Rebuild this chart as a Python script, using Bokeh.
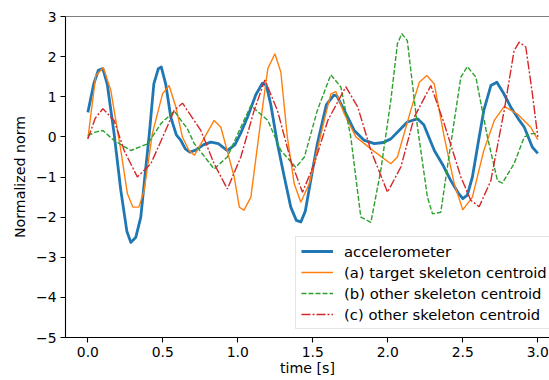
from bokeh.plotting import figure
from bokeh.models import Range1d, FixedTicker, Span, Legend, LegendItem
from bokeh.embed import file_html
from bokeh.resources import INLINE

# ---- data ----
t_acc = [0.0, 0.04, 0.07, 0.1, 0.13, 0.175, 0.22, 0.26, 0.287, 0.32, 0.353, 0.38, 0.41, 0.44,
         0.47, 0.49, 0.52, 0.553, 0.59, 0.62, 0.65, 0.68, 0.72, 0.77, 0.82, 0.87, 0.93, 0.98,
         1.02, 1.064, 1.12, 1.164, 1.19, 1.22, 1.264, 1.31, 1.353, 1.39, 1.42, 1.45, 1.49, 1.53,
         1.59, 1.64, 1.66, 1.71, 1.776, 1.84, 1.91, 1.97, 2.02, 2.08, 2.13, 2.198, 2.24, 2.31,
         2.37, 2.42, 2.47, 2.5, 2.53, 2.564, 2.6, 2.64, 2.687, 2.727, 2.77, 2.82, 2.87, 2.91,
         2.964, 3.0]
v_acc = [0.61, 1.33, 1.66, 1.70, 1.3, 0.08, -1.34, -2.35, -2.63, -2.5, -2.0, -1.0, 0.08, 1.32,
         1.7, 1.74, 1.3, 0.49, 0.05, -0.09, -0.3, -0.38, -0.33, -0.2, -0.13, -0.17, -0.34, -0.2,
         0.1, 0.49, 1.05, 1.34, 1.28, 0.8, -0.17, -1.0, -1.75, -2.08, -2.12, -1.85, -1.0, -0.17,
         0.8, 1.04, 1.02, 0.66, 0.16, -0.08, -0.17, -0.14, -0.05, 0.18, 0.37, 0.45, 0.3, -0.34,
         -0.72, -1.09, -1.4, -1.54, -1.45, -1.0, -0.2, 0.66, 1.28, 1.36, 1.1, 0.74, 0.45, 0.24,
         -0.26, -0.41]

t_tgt = [0.0, 0.053, 0.104, 0.153, 0.22, 0.264, 0.3, 0.34, 0.375, 0.43, 0.498, 0.542, 0.587,
         0.631, 0.675, 0.71, 0.78, 0.842, 0.887, 0.976, 1.01, 1.04, 1.087, 1.153, 1.2, 1.247,
         1.287, 1.33, 1.376, 1.42, 1.476, 1.576, 1.62, 1.653, 1.71, 1.787, 1.887, 2.02, 2.064,
         2.153, 2.21, 2.26, 2.31, 2.376, 2.443, 2.5, 2.564, 2.64, 2.71, 2.776, 2.864, 2.953, 3.0]
v_tgt = [-0.05, 1.53, 1.72, 1.16, -0.34, -1.42, -1.75, -1.75, -1.34, 0.08, 1.07, 1.28, 0.74,
         -0.01, -0.34, -0.46, 0.0, 0.41, 0.24, -1.0, -1.75, -1.83, -1.5, 0.41, 1.7, 2.07,
         1.61, 0.0, -1.17, -1.63, -1.17, 0.41, 1.07, 1.13, 0.57, 0.0, -0.3, -0.67, -0.5,
         0.66, 1.36, 1.53, 1.32, 0.0, -1.17, -1.82, -1.5, -0.34, 0.41, 0.76, 0.57, 0.24, -0.07]

t_b = [0.0, 0.05, 0.1, 0.175, 0.287, 0.4, 0.487, 0.576, 0.664, 0.71, 0.842, 0.93, 1.02, 1.087,
       1.2, 1.287, 1.387, 1.444, 1.53, 1.62, 1.687, 1.753, 1.82, 1.887, 1.953, 2.02, 2.064,
       2.093, 2.13, 2.198, 2.264, 2.298, 2.353, 2.42, 2.487, 2.53, 2.587, 2.664, 2.731, 2.764,
       2.842, 2.91, 2.96, 3.0]
v_b = [0.03, 0.12, 0.16, -0.09, -0.34, -0.17, 0.33, 0.64, 0.2, -0.17, -0.8, -0.5, 0.24, 0.78,
       0.41, -0.34, -0.76, -0.5, 0.66, 1.55, 1.24, 0.0, -2.0, -2.13, -0.84, 0.91, 2.32,
       2.57, 2.4, 0.24, -1.5, -1.92, -1.88, -0.17, 1.49, 1.75, 1.49, 0.0, -1.09, -1.15,
       -0.67, 0.0, 0.08, 0.08]

t_c = [0.0, 0.05, 0.1, 0.175, 0.242, 0.33, 0.42, 0.509, 0.576, 0.631, 0.753, 0.842, 0.93, 1.02,
       1.109, 1.18, 1.264, 1.353, 1.431, 1.51, 1.6, 1.72, 1.8, 1.887, 1.998, 2.087, 2.176,
       2.287, 2.376, 2.487, 2.553, 2.609, 2.687, 2.776, 2.842, 2.876, 2.92, 2.964, 3.0]
v_c = [-0.05, 0.47, 0.7, 0.41, -0.34, -1.0, -0.67, 0.08, 0.66, 0.84, 0.16, -0.67, -1.3, -0.5,
       0.66, 1.42, 0.66, -0.59, -1.38, -0.67, 0.41, 1.25, 0.74, -0.34, -1.38, -0.75, 0.49,
       1.28, 0.33, -1.0, -1.58, -1.74, -1.09, 0.66, 2.15, 2.36, 2.24, 1.07, 0.0]

labels = ["accelerometer", "(a) target skeleton centroid",
          "(b) other skeleton centroid", "(c) other skeleton centroid"]
x_ticks = [0.0, 0.5, 1.0, 1.5, 2.0, 2.5, 3.0]
y_ticks = [-5, -4, -3, -2, -1, 0, 1, 2, 3]

FONT = "DejaVu Sans"
FS = "13.9px"

p = figure(width=549, height=380, output_backend="svg", toolbar_location=None,
           x_range=Range1d(-0.149, 3.078), y_range=Range1d(-5, 3),
           min_border_left=65, min_border_right=0, min_border_top=16, min_border_bottom=43)
p.background_fill_color = "white"
p.border_fill_color = "white"
p.outline_line_color = None
p.grid.visible = False

r_acc = p.line(t_acc, v_acc, line_color="#1f77b4", line_width=2.8, line_join="round")
r_tgt = p.line(t_tgt, v_tgt, line_color="#ff7f0e", line_width=1.4)
r_b = p.line(t_b, v_b, line_color="#2ca02c", line_width=1.4, line_dash="5 2")
r_c = p.line(t_c, v_c, line_color="#d62728", line_width=1.4, line_dash="9 2 2 2")

p.add_layout(Span(location=3, dimension="width", line_color="black", line_width=1.1))

for ax in (p.xaxis[0], p.yaxis[0]):
    ax.axis_line_color = "black"
    ax.axis_line_width = 1.1
    ax.major_tick_line_color = "black"
    ax.major_tick_line_width = 1.1
    ax.major_tick_in = 0
    ax.major_tick_out = 5
    ax.minor_tick_line_color = None
    ax.major_label_text_font = FONT
    ax.major_label_text_font_size = FS
    ax.major_label_text_color = "black"
    ax.axis_label_text_font = FONT
    ax.axis_label_text_font_size = "14.2px"
    ax.axis_label_text_font_style = "normal"
    ax.axis_label_text_color = "black"
    ax.major_label_standoff = 4

p.xaxis.axis_label_standoff = 0
p.yaxis.axis_label_standoff = 5

p.xaxis.ticker = FixedTicker(ticks=x_ticks)
p.xaxis.major_label_overrides = {t: f"{t:.1f}" for t in x_ticks}
p.yaxis.ticker = FixedTicker(ticks=y_ticks)
p.yaxis.major_label_overrides = {t: (f"\u2212{-t}" if t < 0 else str(t)) for t in y_ticks}
p.xaxis.axis_label = "time [s]"
p.yaxis.axis_label = "Normalized norm"

legend = Legend(items=[LegendItem(label=labels[0], renderers=[r_acc]),
                       LegendItem(label=labels[1], renderers=[r_tgt]),
                       LegendItem(label=labels[2], renderers=[r_b]),
                       LegendItem(label=labels[3], renderers=[r_c])],
                location=(230, 8), orientation="vertical")
legend.label_text_font = FONT
legend.label_text_font_size = "14.8px"
legend.label_text_color = "black"
legend.glyph_width = 32
legend.glyph_height = 18
legend.label_height = 18
legend.label_standoff = 11
legend.spacing = 3
legend.padding = 5
legend.margin = 0
legend.border_line_color = "#cccccc"
legend.border_line_width = 1
legend.background_fill_color = "white"
legend.background_fill_alpha = 0.8
p.add_layout(legend)

open("out.html", "w").write(file_html(p, INLINE))
